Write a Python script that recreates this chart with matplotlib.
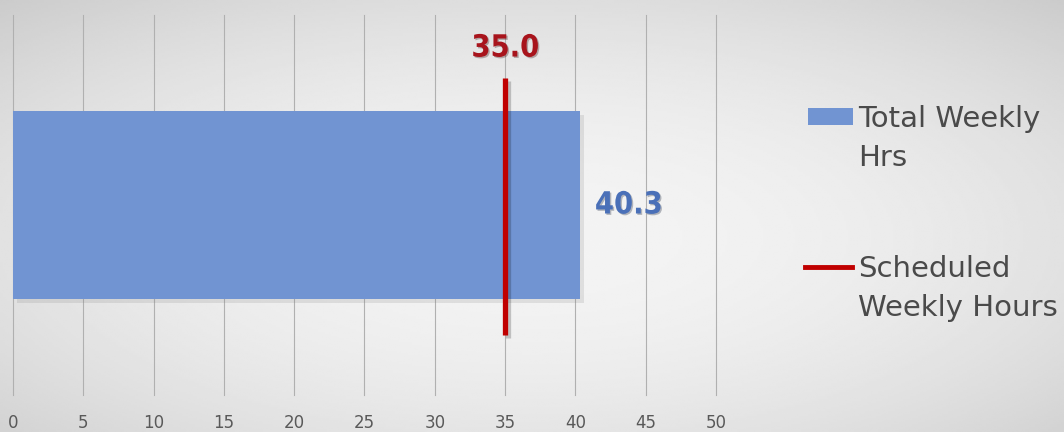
import numpy as np
import matplotlib
matplotlib.use('Agg')
import matplotlib.pyplot as plt
import matplotlib.patheffects as pe
from matplotlib.patches import Rectangle
from matplotlib.lines import Line2D

# data
categories = ['']
total_hrs = [40.3]
scheduled_hrs = [35.0]
series_names = ['Total Weekly\nHrs', 'Scheduled\nWeekly Hours']
x_ticks = [0, 5, 10, 15, 20, 25, 30, 35, 40, 45, 50]

bar_color = '#7194d2'
line_color = '#c00000'
text_gray = '#4a4a4a'

plt.rcParams['font.family'] = ['DejaVu Sans']

W, H = 1064, 432
fig = plt.figure(figsize=(W / 100, H / 100), dpi=100)

# background: soft radial gradient like the office chart style
bg = fig.add_axes([0, 0, 1, 1], zorder=-10)
yy, xx = np.mgrid[0:1:200j, 0:1:500j]
r = np.sqrt(((xx - 0.5) / 0.75) ** 2 + ((yy - 0.45) / 0.75) ** 2)
shade = 0.955 - 0.16 * np.clip(r, 0, 1) ** 2
bg.imshow(shade, cmap='gray', vmin=0, vmax=1, aspect='auto',
          extent=[0, 1, 0, 1], origin='lower', interpolation='bilinear')
bg.axis('off')

# main axes
ax = fig.add_axes([13 / W, 1 - 395 / H, (716 - 13) / W, 380 / H])
ax.set_facecolor('none')

y = np.arange(len(categories))
bars = ax.barh(y, total_hrs, height=0.99, color=bar_color, zorder=3)
for b in bars:
    b.set_path_effects([pe.SimplePatchShadow(offset=(3, -3), shadow_rgbFace='#808080', alpha=0.18),
                        pe.Normal()])

for yi, v in zip(y, scheduled_hrs):
    ln = ax.vlines(v, yi - 0.684, yi + 0.668, color=line_color, linewidth=3.8, zorder=4)
    ln.set_path_effects([pe.SimpleLineShadow(offset=(2, -2), alpha=0.2), pe.Normal()])
    ax.text(v, yi + 0.826, f'{v:.1f}', ha='center', va='center', fontsize=22,
            fontweight='bold', color='#a8141c', fontstretch='condensed', zorder=5,
            path_effects=[pe.withSimplePatchShadow(offset=(1, -1), alpha=0.3)])

for yi, v in zip(y, total_hrs):
    ax.annotate(f'{v:.1f}', xy=(v, yi), xytext=(11, 0), textcoords='offset points',
                ha='left', va='center', fontsize=22, fontweight='bold', color='#4a70b8',
                fontstretch='condensed', zorder=5,
                path_effects=[pe.withSimplePatchShadow(offset=(1, -1), alpha=0.3)])

ax.set_xlim(0, 50)
ax.set_ylim(-1, 1)
ax.set_xticks(x_ticks)
ax.set_yticks([])
ax.tick_params(axis='x', length=0, pad=14, labelsize=12, labelcolor='#595959')
ax.grid(axis='x', color='#b0b0b0', linewidth=0.8, zorder=0)
for gl in ax.get_xgridlines():
    gl.set_clip_on(False)
for s in ax.spines.values():
    s.set_visible(False)

# legend drawn by hand to keep the excel layout
ft = fig.transFigure
fig.add_artist(Rectangle((808 / W, 1 - 125 / H), 45 / W, 17 / H, transform=ft,
                         facecolor=bar_color, edgecolor='none'))
fig.add_artist(Line2D([805 / W, 852 / W], [1 - 267 / H, 1 - 267 / H], transform=ft,
                      color=line_color, linewidth=3.5))
leg_rows = [(series_names[0], 127), (series_names[1], 277)]
for name, base in leg_rows:
    for k, line in enumerate(name.split('\n')):
        fig.text(858 / W, 1 - (base + 39 * k) / H, line, ha='left', va='baseline',
                 fontsize=21, color=text_gray)

fig.savefig('out.png', dpi=100)
